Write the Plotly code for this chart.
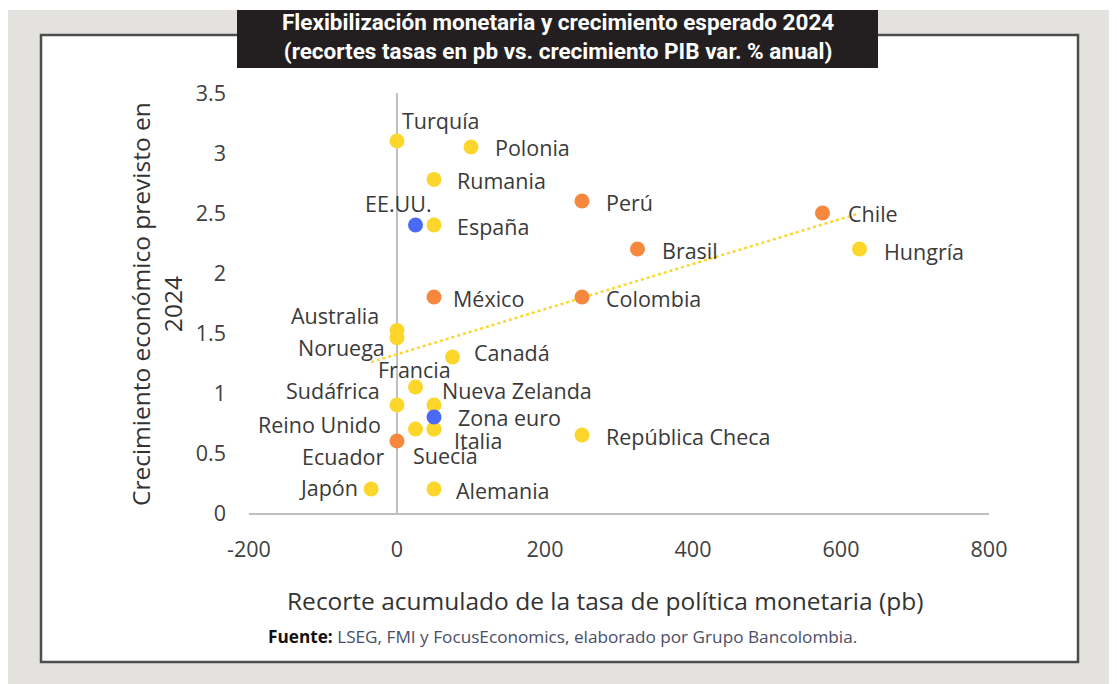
import numpy as np
import plotly.graph_objects as go

# ---------------- data ----------------
countries = ["Turquía", "Polonia", "Rumania", "EE.UU.", "España", "Perú", "Chile", "Hungría",
             "Brasil", "México", "Colombia", "Australia", "Noruega", "Canadá", "Francia",
             "Sudáfrica", "Nueva Zelanda", "Zona euro", "Reino Unido", "Italia", "Suecia",
             "Ecuador", "República Checa", "Japón", "Alemania"]
rate_cut_pb = [0, 100, 50, 25, 50, 250, 575, 625,
               325, 50, 250, 0, 0, 75, 25,
               0, 50, 50, 25, 50, 50,
               0, 250, -35, 50]
gdp_growth_2024 = [3.1, 3.05, 2.78, 2.4, 2.4, 2.6, 2.5, 2.2,
                   2.2, 1.8, 1.8, 1.52, 1.46, 1.3, 1.05,
                   0.9, 0.9, 0.8, 0.7, 0.7, 0.7,
                   0.6, 0.65, 0.2, 0.2]
group = ["Otros", "Otros", "Otros", "Referencia", "Otros", "Latam", "Latam", "Otros",
         "Latam", "Latam", "Latam", "Otros", "Otros", "Otros", "Otros",
         "Otros", "Otros", "Referencia", "Otros", "Otros", "Otros",
         "Latam", "Otros", "Otros", "Otros"]
x_ticks = [-200, 0, 200, 400, 600, 800]
y_ticks = [0, 0.5, 1, 1.5, 2, 2.5, 3, 3.5]
y_tick_text = ["0", "0.5", "1", "1.5", "2", "2.5", "3", "3.5"]

# ---------------- styles ----------------
COLORS = {"Otros": "#FDD62B", "Latam": "#F5873F", "Referencia": "#4A6AF6"}
# label placement: (xanchor, xshift px, yshift px)
LABEL_POS = {
    "Turquía": ("left", 3, 21), "Polonia": ("left", 22, 0), "Rumania": ("left", 21, -1),
    "EE.UU.": ("center", -17, 22), "España": ("left", 21, -1), "Perú": ("left", 22, -1),
    "Chile": ("left", 23, 0), "Hungría": ("left", 22, -2), "Brasil": ("left", 22, -1),
    "México": ("left", 17, -1), "Colombia": ("left", 22, -1), "Australia": ("right", -16, 15),
    "Noruega": ("right", -10, -10), "Canadá": ("left", 19, 5), "Francia": ("center", -1, 18),
    "Sudáfrica": ("right", -15, 15), "Nueva Zelanda": ("left", 6, 15), "Zona euro": ("left", 22, 0),
    "Reino Unido": ("right", -33, 5), "Italia": ("left", 18, -11), "Suecia": ("center", 11, -26),
    "Ecuador": ("right", -11, -15), "República Checa": ("left", 22, -1), "Japón": ("right", -11, 2),
    "Alemania": ("left", 20, -1),
}
FONT = "Open Sans, Noto Sans, sans-serif"

fig = go.Figure()

# trend line (OLS computed from the data)
xs = np.array(rate_cut_pb, dtype=float)
ys = np.array(gdp_growth_2024, dtype=float)
slope, intercept = np.polyfit(xs, ys, 1)
tx = np.array([xs.min(), xs.max()])
fig.add_trace(go.Scatter(x=tx, y=slope * tx + intercept, mode="lines",
                         line=dict(color="#FDD62B", width=2.5, dash="dot"),
                         hoverinfo="skip", showlegend=False))

for g in ["Otros", "Latam", "Referencia"]:
    idx = [i for i, gg in enumerate(group) if gg == g]
    fig.add_trace(go.Scatter(
        x=[rate_cut_pb[i] for i in idx], y=[gdp_growth_2024[i] for i in idx],
        mode="markers", marker=dict(size=15, color=COLORS[g]),
        text=[countries[i] for i in idx], showlegend=False))

annotations = []
for c, xv, yv in zip(countries, rate_cut_pb, gdp_growth_2024):
    anc, dx, dy = LABEL_POS[c]
    annotations.append(dict(x=xv, y=yv, xref="x", yref="y", text=c, showarrow=False,
                            xanchor=anc, yanchor="middle", xshift=dx, yshift=dy,
                            font=dict(family=FONT, size=21.5, color="#3a3a3a")))

# page pixel coordinates of the plot area (the page body adds an 8px margin)
OFF = 8
L, R, T, B = 249, 989, 93, 513
W = R - L
H = B - T
FW, FH = 1117 - OFF, 684 - OFF


def px(xp):
    return (xp - L) / W


def py(yp):
    return (B - yp) / H


annotations += [
    dict(xref="paper", yref="paper", x=px(558), y=py(36), showarrow=False,
         text="<b>Flexibilización monetaria y crecimiento esperado 2024<br>(recortes tasas en pb vs. crecimiento PIB var. % anual)</b>",
         font=dict(family="Roboto, sans-serif", size=22.5, color="white"), align="center",
         xanchor="center", yanchor="middle"),
    dict(xref="paper", yref="paper", x=px(156), y=py(304), showarrow=False, textangle=-90,
         text="Crecimiento económico previsto en<br>2024",
         font=dict(family=FONT, size=24.5, color="#333333"), align="center",
         xanchor="center", yanchor="middle"),
    dict(xref="paper", yref="paper", x=px(605), y=py(600), showarrow=False,
         text="Recorte acumulado de la tasa de política monetaria (pb)",
         font=dict(family=FONT, size=24.5, color="#333333"),
         xanchor="center", yanchor="middle"),
    dict(xref="paper", yref="paper", x=px(266), y=py(636), showarrow=False,
         text="<b><span style='color:#111111'>Fuente:</span></b> LSEG, FMI y FocusEconomics, elaborado por Grupo Bancolombia.",
         font=dict(family=FONT, size=17.2, color="#4a4e68"),
         xanchor="left", yanchor="middle"),
]

shapes = [
    dict(type="rect", xref="paper", yref="paper", x0=px(6), x1=px(1140), y0=py(720), y1=py(10),
         fillcolor="#E3E2DF", line=dict(width=0), layer="below"),
    dict(type="rect", xref="paper", yref="paper", x0=px(41), x1=px(1078), y0=py(662), y1=py(35),
         fillcolor="white", line=dict(color="#4d4d4d", width=2.5), layer="below"),
    dict(type="rect", xref="paper", yref="paper", x0=px(237), x1=px(878), y0=py(68), y1=py(10),
         fillcolor="#231F20", line=dict(width=0), layer="below"),
]

fig.update_layout(
    width=FW, height=FH,
    margin=dict(l=L - OFF, r=1117 - R, t=T - OFF, b=684 - B),
    paper_bgcolor="white", plot_bgcolor="rgba(0,0,0,0)",
    showlegend=False, annotations=annotations, shapes=shapes,
    font=dict(family=FONT, color="#404040"),
    xaxis=dict(range=[-200, 800], tickvals=x_ticks, ticktext=[str(v) for v in x_ticks],
               showgrid=False, showline=True, linecolor="#bfbfbf", linewidth=1.5,
               zeroline=True, zerolinecolor="#bfbfbf", zerolinewidth=1.5,
               ticks="", ticklabelstandoff=16, tickfont=dict(size=21.5, color="#404040")),
    yaxis=dict(range=[0, 3.5], tickvals=y_ticks, ticktext=y_tick_text,
               showgrid=False, showline=False, zeroline=False,
               ticks="", ticklabelstandoff=22, tickfont=dict(size=21.5, color="#404040")),
)

fig.write_html("out.html")
